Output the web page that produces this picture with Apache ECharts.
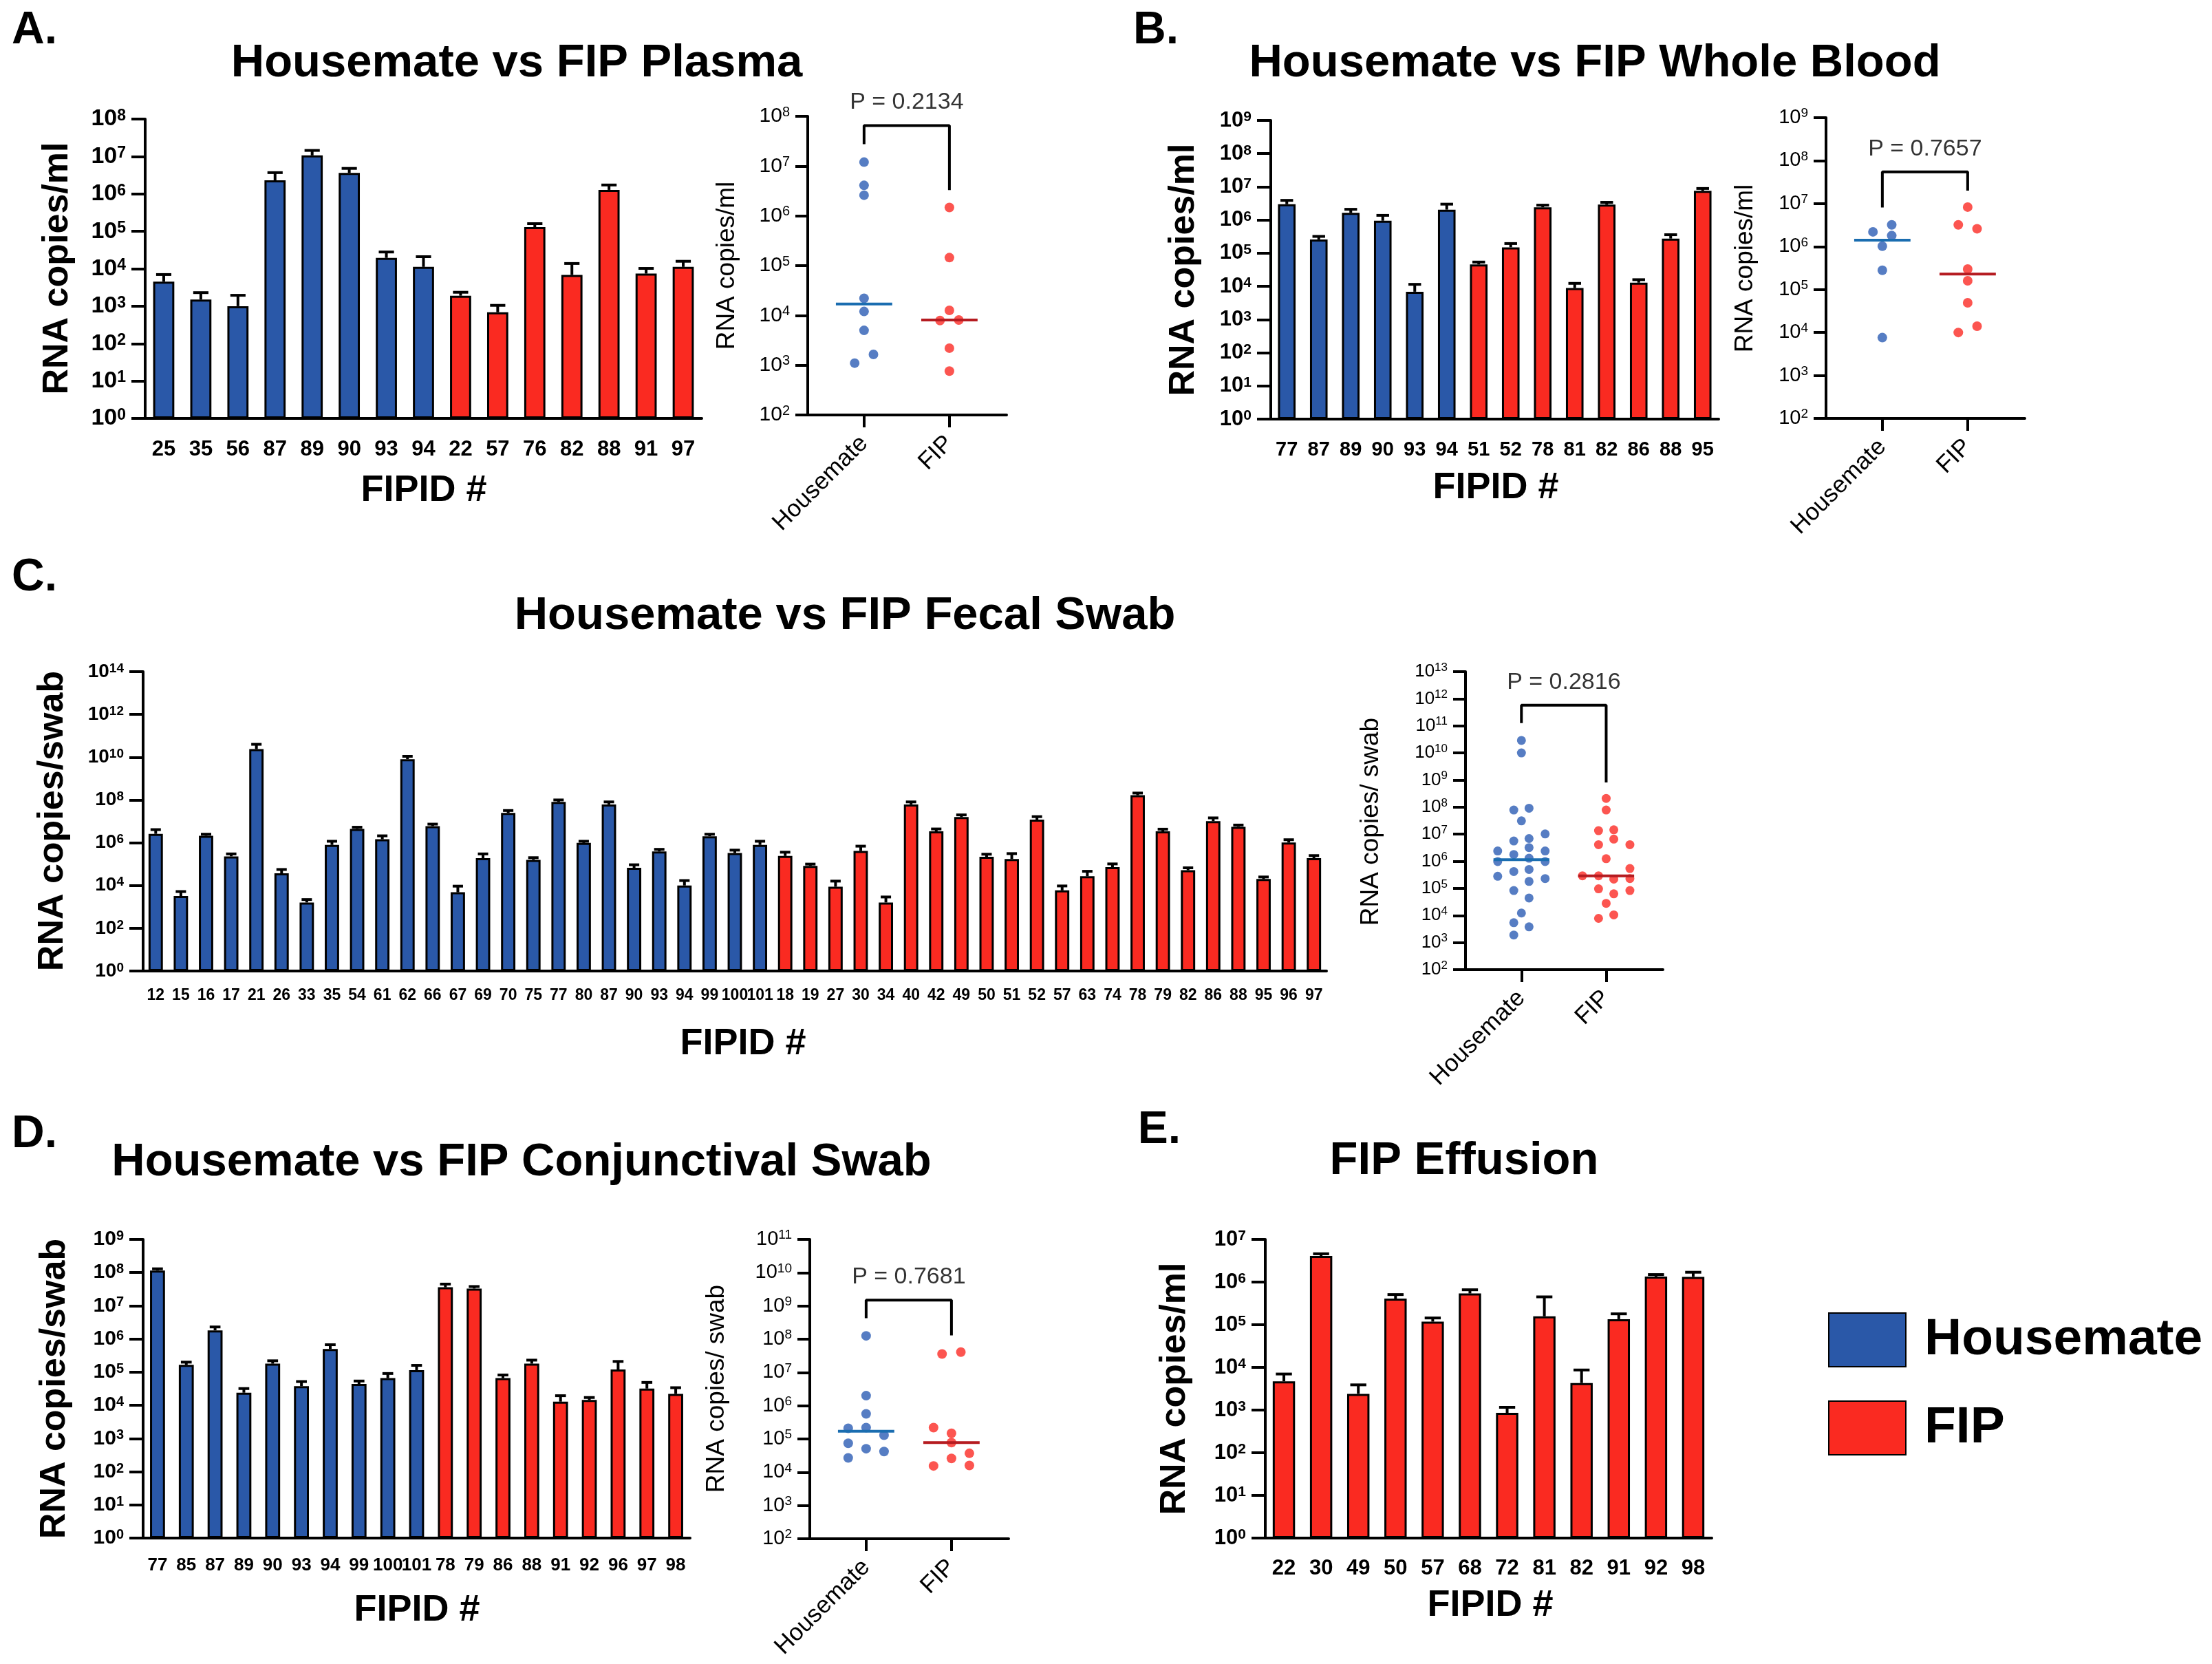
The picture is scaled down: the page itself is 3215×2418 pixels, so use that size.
<!DOCTYPE html>
<html>
<head>
<meta charset="utf-8">
<title>Housemate vs FIP RNA copies</title>
<script src="https://cdn.jsdelivr.net/npm/echarts@6/dist/echarts.min.js"></script>
<style>
  html, body { margin: 0; padding: 0; background: #fff; }
  #chart { width: 3215px; height: 2418px; }
</style>
</head>
<body>
<div id="chart"></div>
<script>
// ---------- A. Plasma ----------
const plasmaHmIds  = ['25', '35', '56', '87', '89', '90', '93', '94'];
const plasmaHmVals = [4.5e3, 1.5e3, 1.0e3, 2.3e6, 1.07e7, 3.65e6, 1.95e4, 1.12e4];
const plasmaHmErr  = [7.0e3, 2.3e3, 1.95e3, 3.7e6, 1.45e7, 4.8e6, 2.8e4, 2.1e4];
const plasmaFipIds  = ['22', '57', '76', '82', '88', '91', '97'];
const plasmaFipVals = [1.9e3, 690, 1.29e5, 6.8e3, 1.28e6, 7.4e3, 1.12e4];
const plasmaFipErr  = [2.35e3, 1.05e3, 1.6e5, 1.38e4, 1.73e6, 1.02e4, 1.58e4];
const plasmaDotsHm  = [1.2e7, 4.1e6, 2.6e6, 2.2e4, 1.2e4, 5.0e3, 1.65e3, 1.1e3];
const plasmaJitHm   = [0, 0, 0, 0, 0, 0, 0.11, -0.11];
const plasmaDotsFip = [1.47e6, 1.45e5, 1.26e4, 7.9e3, 8.1e3, 2.2e3, 760];
const plasmaJitFip  = [0, 0, 0, -0.11, 0.11, 0, 0];
const plasmaBracket = [2.75e7, 6.5e7, 3.3e6]; // left foot, top, right foot
const plasmaP = 'P = 0.2134';

// ---------- B. Whole blood ----------
const bloodHmIds  = ['77', '87', '89', '90', '93', '94'];
const bloodHmVals = [3.0e6, 2.6e5, 1.65e6, 9.5e5, 6.9e3, 2.05e6];
const bloodHmErr  = [3.9e6, 3.2e5, 2.1e6, 1.38e6, 1.15e4, 3.0e6];
const bloodFipIds  = ['51', '52', '78', '81', '82', '86', '88', '95'];
const bloodFipVals = [4.6e4, 1.5e5, 2.4e6, 8.9e3, 2.9e6, 1.29e4, 2.75e5, 7.6e6];
const bloodFipErr  = [5.4e4, 1.95e5, 2.8e6, 1.23e4, 3.4e6, 1.59e4, 3.6e5, 8.9e6];
const bloodDotsHm  = [3.2e6, 2.2e6, 1.8e6, 1.02e6, 2.8e5, 7.6e3];
const bloodJitHm   = [0.11, -0.11, 0.11, 0, 0, 0];
const bloodDotsFip = [8.3e6, 3.2e6, 2.6e6, 3.0e5, 1.6e5, 4.9e4, 1.4e4, 1.0e4];
const bloodJitFip  = [0, -0.11, 0.11, 0, 0, 0, 0.11, -0.11];
const bloodBracket = [8.1e6, 5.5e7, 2.0e7];
const bloodP = 'P = 0.7657';

// ---------- C. Fecal swab ----------
const fecalHmIds  = ['12', '15', '16', '17', '21', '26', '33', '35', '54', '61', '62', '66', '67',
                     '69', '70', '75', '77', '80', '87', '90', '93', '94', '99', '100', '101'];
const fecalHmVals = [2.6e6, 3.2e3, 2.1e6, 2.3e5, 2.4e10, 3.7e4, 1.6e3, 7.9e5, 4.4e6, 1.45e6, 8.1e9, 6.0e6, 4.8e3,
                     1.9e5, 2.5e7, 1.58e5, 8.1e7, 9.8e5, 6.2e7, 6.7e4, 3.9e5, 1.0e4, 2.0e6, 3.3e5, 7.9e5];
const fecalHmErr  = [4.1e6, 5.2e3, 2.5e6, 3.0e5, 4.0e10, 5.6e4, 2.2e3, 1.17e6, 5.3e6, 2.1e6, 1.1e10, 7.4e6, 9.3e3,
                     3.0e5, 3.2e7, 2.0e5, 1.0e8, 1.17e6, 8.1e7, 9.3e4, 4.9e5, 1.7e4, 2.5e6, 4.5e5, 1.17e6];
const fecalFipIds  = ['18', '19', '27', '30', '34', '40', '42', '49', '50', '51', '52',
                      '57', '63', '74', '78', '79', '82', '86', '88', '95', '96', '97'];
const fecalFipVals = [2.4e5, 8.3e4, 8.7e3, 4.1e5, 1.6e3, 6.2e7, 3.4e6, 1.58e7, 2.2e5, 1.74e5, 1.2e7,
                      5.9e3, 2.7e4, 7.2e4, 1.66e8, 3.4e6, 5.2e4, 1.02e7, 5.5e6, 2.0e4, 1.02e6, 1.9e5];
const fecalFipErr  = [3.6e5, 1.0e5, 1.6e4, 6.9e5, 2.9e3, 8.1e7, 4.4e6, 2.0e7, 2.9e5, 3.1e5, 1.66e7,
                      9.5e3, 4.6e4, 1.02e5, 2.1e8, 4.3e6, 6.7e4, 1.45e7, 6.7e6, 2.5e4, 1.38e6, 2.5e5];
const fecalDotsHm = [2.9e10, 1.0e10, 9.1e7, 7.8e7, 3.1e7, 1.02e7, 6.9e6, 5.6e6, 3.2e6, 2.4e6, 2.4e6, 1.78e6, 1.3e6,
                     9.8e5, 9.8e5, 4.2e5, 5.0e5, 2.8e5, 2.3e5, 1.8e5, 8.3e4, 4.4e4, 1.23e4, 5.4e3, 3.8e3, 1.9e3];
const fecalJitHm  = [0, 0, 0.09, -0.09, 0, 0.28, 0.09, -0.09, 0.09, -0.28, 0.28, -0.09, 0.09,
                     -0.28, 0.28, -0.09, 0.09, -0.28, 0.28, 0.09, -0.09, 0.09, 0, -0.09, 0.09, -0.09];
const fecalDotsFip = [2.1e8, 7.8e7, 1.35e7, 1.45e7, 6.6e6, 4.1e6, 4.1e6, 1.24e6, 5.4e5, 2.9e5,
                      2.9e5, 2.2e5, 2.3e5, 9.6e4, 8.3e4, 6.3e4, 2.8e4, 1.05e4, 7.8e3];
const fecalJitFip  = [0, 0, -0.09, 0.09, 0.09, -0.09, 0.28, 0, 0.28, -0.28,
                      -0.09, 0.09, 0.28, -0.09, 0.28, 0.09, 0, 0.09, -0.09];
const fecalBracket = [1.26e11, 5.8e11, 8.1e8];
const fecalP = 'P = 0.2816';

// ---------- D. Conjunctival swab ----------
const conjHmIds  = ['77', '85', '87', '89', '90', '93', '94', '99', '100', '101'];
const conjHmVals = [1.15e8, 1.66e5, 1.82e6, 2.4e4, 1.8e5, 3.8e4, 5.0e5, 4.4e4, 6.6e4, 1.15e5];
const conjHmErr  = [1.3e8, 2.0e5, 2.3e6, 3.2e4, 2.2e5, 5.2e4, 6.7e5, 5.4e4, 9.1e4, 1.6e5];
const conjFipIds  = ['78', '79', '86', '88', '91', '92', '96', '97', '98'];
const conjFipVals = [3.6e7, 3.3e7, 6.6e4, 1.8e5, 1.29e4, 1.45e4, 1.2e5, 3.2e4, 2.2e4];
const conjFipErr  = [4.5e7, 3.8e7, 8.2e4, 2.3e5, 1.95e4, 1.72e4, 2.1e5, 4.9e4, 3.4e4];
const conjDotsHm  = [1.26e8, 2.0e6, 5.7e5, 2.1e5, 2.2e5, 1.3e5, 7.4e4, 5.1e4, 4.2e4, 2.7e4];
const conjJitHm   = [0, 0, 0, -0.21, 0, 0.21, -0.21, 0, 0.21, -0.21];
const conjDotsFip = [3.6e7, 4.1e7, 2.2e5, 1.48e5, 7.8e4, 3.7e4, 2.6e4, 1.6e4, 1.55e4];
const conjJitFip  = [-0.11, 0.11, -0.21, 0, 0, 0.21, 0, 0.21, -0.21];
const conjBracket = [4.3e8, 1.5e9, 1.3e8];
const conjP = 'P = 0.7681';

// ---------- E. Effusion (FIP only) ----------
const effIds  = ['22', '30', '49', '50', '57', '68', '72', '81', '82', '91', '92', '98'];
const effVals = [4.7e3, 4.1e6, 2.4e3, 4.1e5, 1.18e5, 5.4e5, 860, 1.58e5, 4.3e3, 1.35e5, 1.35e6, 1.32e6];
const effErr  = [7.0e3, 4.6e6, 3.9e3, 5.1e5, 1.44e5, 6.6e5, 1.16e3, 4.5e5, 8.7e3, 1.8e5, 1.5e6, 1.7e6];

const groupNames = ['Housemate', 'FIP'];

const FONT = '"Liberation Sans", Arial, Helvetica, sans-serif';
const BLUE = '#2a58a8', RED = '#fa2a21';
const DOT_BLUE = '#2c5db4', DOT_RED = '#fb2b24';
const MED_BLUE = '#1a6db0', MED_RED = '#b51b20';
const AXIS = { color: '#000', width: 4 };

const grids = [], xAxes = [], yAxes = [], series = [], texts = [];

function median(arr) {
  const s = arr.slice().sort((a, b) => a - b);
  const m = s.length >> 1;
  return s.length % 2 ? s[m] : (s[m - 1] + s[m]) / 2;
}

// visible decade axis (exponents), drawn over the hidden log axis of the same grid
function expAxis(g, lo, hi, step, bold, tickLen, margin, big, raise) {
  const w = bold ? 'bold' : 'normal';
  const small = Math.round(big * 0.67);
  return {
    gridIndex: g, type: 'value', position: 'left', min: lo, max: hi, interval: step,
    axisLine: { show: true, onZero: false, lineStyle: AXIS },
    axisTick: { show: true, length: tickLen, lineStyle: AXIS },
    splitLine: { show: false },
    axisLabel: {
      margin: margin,
      formatter: v => '{b|10}{s|' + v + '}',
      rich: {
        b: { fontSize: big, fontWeight: w, fontFamily: FONT, color: '#000' },
        s: { fontSize: small, fontWeight: w, fontFamily: FONT, color: '#000', padding: [0, 0, raise, 0] }
      }
    }
  };
}

function barPanel(box, hmIds, hmVals, hmErr, fipIds, fipVals, fipErr, expTop, expStep, yFont, xFont, xMargin, barFrac) {
  const g = grids.length;
  grids.push({ left: box[0], top: box[1], width: box[2], height: box[3] });
  const ids = hmIds.concat(fipIds);
  xAxes.push({
    gridIndex: g, type: 'category', data: ids, boundaryGap: true,
    axisLine: { onZero: false, lineStyle: AXIS },
    axisTick: { alignWithLabel: true, length: 21, lineStyle: AXIS },
    axisLabel: { interval: 0, margin: xMargin, fontSize: xFont, fontWeight: 'bold', color: '#000', fontFamily: FONT }
  });
  const xi = xAxes.length - 1;
  yAxes.push({ gridIndex: g, type: 'log', logBase: 10, min: 1, max: Math.pow(10, expTop), show: false });
  const yl = yAxes.length - 1;
  yAxes.push(expAxis(g, 0, expTop, expStep, true, 20, 28, yFont, 9));

  const width = Math.round(barFrac * 100) + '%';
  series.push({
    type: 'bar', name: 'Housemate', xAxisIndex: xi, yAxisIndex: yl, barWidth: width, barGap: '-100%',
    data: hmVals.concat(fipIds.map(() => '-')),
    itemStyle: { color: BLUE, borderColor: '#000', borderWidth: 3 }
  });
  series.push({
    type: 'bar', name: 'FIP', xAxisIndex: xi, yAxisIndex: yl, barWidth: width, barGap: '-100%',
    data: hmIds.map(() => '-').concat(fipVals),
    itemStyle: { color: RED, borderColor: '#000', borderWidth: 3 }
  });

  // upward error bars with caps
  const errData = hmVals.map((v, i) => [i, v, hmErr[i]])
    .concat(fipVals.map((v, i) => [hmIds.length + i, v, fipErr[i]]));
  const capHalf = box[2] / ids.length * barFrac * 0.36;
  series.push({
    type: 'custom', xAxisIndex: xi, yAxisIndex: yl, data: errData, silent: true, z: 4,
    encode: { x: 0, y: 1 },
    renderItem: (params, api) => {
      const p0 = api.coord([api.value(0), api.value(1)]);
      const p1 = api.coord([api.value(0), api.value(2)]);
      const st = { stroke: '#000', lineWidth: 4 };
      return {
        type: 'group',
        children: [
          { type: 'line', shape: { x1: p0[0], y1: p0[1], x2: p1[0], y2: p1[1] }, style: st },
          { type: 'line', shape: { x1: p1[0] - capHalf, y1: p1[1], x2: p1[0] + capHalf, y2: p1[1] }, style: st }
        ]
      };
    }
  });
}

function dotPanel(box, hmDots, hmJit, fipDots, fipJit, bracket, pText, expLo, expTop, yFont, dotSize) {
  const g = grids.length;
  grids.push({ left: box[0], top: box[1], width: box[2], height: box[3] });
  xAxes.push({
    gridIndex: g, type: 'value', min: -0.66, max: 1.67,
    axisLine: { onZero: false, lineStyle: AXIS },
    axisTick: { customValues: [0, 1], length: 18, lineStyle: AXIS },
    splitLine: { show: false },
    axisLabel: {
      customValues: [0, 1], formatter: v => groupNames[Math.round(v)], rotate: 45,
      margin: 36, fontSize: 35, color: '#000', fontFamily: FONT
    }
  });
  const xi = xAxes.length - 1;
  yAxes.push({ gridIndex: g, type: 'log', logBase: 10, min: Math.pow(10, expLo), max: Math.pow(10, expTop), show: false });
  const yl = yAxes.length - 1;
  yAxes.push(expAxis(g, expLo, expTop, 1, false, 18, 26, yFont, 12));

  const common = { xAxisIndex: xi, yAxisIndex: yl, silent: true };
  series.push(Object.assign({
    type: 'scatter', name: 'Housemate dots', symbolSize: dotSize, z: 2,
    data: hmDots.map((v, i) => [hmJit[i], v]), itemStyle: { color: DOT_BLUE }
  }, common));
  series.push(Object.assign({
    type: 'scatter', name: 'FIP dots', symbolSize: dotSize, z: 2,
    data: fipDots.map((v, i) => [1 + fipJit[i], v]), itemStyle: { color: DOT_RED }
  }, common));

  // median lines
  const mH = median(hmDots), mF = median(fipDots);
  series.push(Object.assign({
    type: 'line', symbol: 'none', z: 3, data: [[-0.33, mH], [0.33, mH]],
    lineStyle: { color: MED_BLUE, width: 4 }
  }, common));
  series.push(Object.assign({
    type: 'line', symbol: 'none', z: 3, data: [[0.67, mF], [1.33, mF]],
    lineStyle: { color: MED_RED, width: 4 }
  }, common));

  // significance bracket and P value
  series.push(Object.assign({
    type: 'line', symbol: 'none', z: 3,
    data: [[0, bracket[0]], [0, bracket[1]], [1, bracket[1]], [1, bracket[2]]],
    lineStyle: { color: '#000', width: 4 }
  }, common));
  series.push(Object.assign({
    type: 'scatter', symbolSize: 1, clip: false, z: 3, data: [[0.5, bracket[1]]],
    itemStyle: { color: 'rgba(0,0,0,0)' },
    label: { show: true, position: 'top', distance: 16, formatter: pText, fontSize: 34, color: '#000', fontFamily: FONT }
  }, common));
}

function text(str, x, y, size, weight, rotate) {
  texts.push({
    type: 'text', x: x, y: y, rotation: rotate ? Math.PI / 2 : 0, silent: true,
    style: {
      text: str, fill: '#000', font: weight + ' ' + size + 'px ' + FONT,
      align: 'center', verticalAlign: 'middle', textAlign: 'center', textVerticalAlign: 'middle'
    }
  });
}

// panels
barPanel([211, 173, 809, 435], plasmaHmIds, plasmaHmVals, plasmaHmErr, plasmaFipIds, plasmaFipVals, plasmaFipErr, 8, 1, 34, 31, 30, 0.57);
dotPanel([1174, 169, 289, 434], plasmaDotsHm, plasmaJitHm, plasmaDotsFip, plasmaJitFip, plasmaBracket, plasmaP, 2, 8, 30, 14);
barPanel([1847, 175, 651, 434], bloodHmIds, bloodHmVals, bloodHmErr, bloodFipIds, bloodFipVals, bloodFipErr, 9, 1, 31, 29, 30, 0.55);
dotPanel([2654, 171, 289, 437], bloodDotsHm, bloodJitHm, bloodDotsFip, bloodJitFip, bloodBracket, bloodP, 2, 9, 29, 14);
barPanel([208, 976, 1720, 435], fecalHmIds, fecalHmVals, fecalHmErr, fecalFipIds, fecalFipVals, fecalFipErr, 14, 2, 28, 23, 24, 0.57);
dotPanel([2130, 976, 287, 433], fecalDotsHm, fecalJitHm, fecalDotsFip, fecalJitFip, fecalBracket, fecalP, 2, 13, 26, 13);
barPanel([208, 1801, 795, 434], conjHmIds, conjHmVals, conjHmErr, conjFipIds, conjFipVals, conjFipErr, 9, 1, 30, 26, 27, 0.52);
dotPanel([1177, 1801, 289, 435], conjDotsHm, conjJitHm, conjDotsFip, conjJitFip, conjBracket, conjP, 2, 11, 29, 14);
barPanel([1839, 1801, 649, 434], [], [], [], effIds, effVals, effErr, 7, 1, 31, 31, 29, 0.6);

// panel letters and titles
text('A.', 50, 45, 66, 'bold');
text('B.', 1680, 45, 66, 'bold');
text('C.', 50, 840, 66, 'bold');
text('D.', 50, 1649, 66, 'bold');
text('E.', 1685, 1643, 66, 'bold');
text('Housemate vs FIP Plasma', 751, 93, 67, 'bold');
text('Housemate vs FIP Whole Blood', 2318, 93, 67, 'bold');
text('Housemate vs FIP Fecal Swab', 1228, 896, 67, 'bold');
text('Housemate vs FIP Conjunctival Swab', 758, 1690, 67, 'bold');
text('FIP Effusion', 2128, 1688, 67, 'bold');

// axis names
text('FIPID #', 616, 713, 54, 'bold');
text('FIPID #', 2174, 709, 54, 'bold');
text('FIPID #', 1080, 1517, 54, 'bold');
text('FIPID #', 606, 2340, 54, 'bold');
text('FIPID #', 2166, 2333, 54, 'bold');
text('RNA copies/ml', 84, 390, 52, 'bold', true);
text('RNA copies/ml', 1721, 392, 52, 'bold', true);
text('RNA copies/swab', 77, 1193, 52, 'bold', true);
text('RNA copies/swab', 80, 2018, 52, 'bold', true);
text('RNA copies/ml', 1708, 2018, 52, 'bold', true);
text('RNA copies/ml', 1057, 386, 37, 'normal', true);
text('RNA copies/ml', 2537, 390, 37, 'normal', true);
text('RNA copies/ swab', 1993, 1194, 37, 'normal', true);
text('RNA copies/ swab', 1042, 2018, 37, 'normal', true);

const chart = echarts.init(document.getElementById('chart'));
chart.setOption({
  animation: false,
  backgroundColor: '#fff',
  grid: grids,
  xAxis: xAxes,
  yAxis: yAxes,
  series: series,
  legend: {
    data: groupNames, orient: 'vertical', left: 2652, top: 1902, icon: 'rect',
    itemWidth: 112, itemHeight: 78, itemGap: 48, selectedMode: false,
    textStyle: { fontSize: 75, fontWeight: 'bold', fontFamily: FONT, color: '#000', lineHeight: 78, padding: [0, 0, 0, 22] }
  },
  graphic: { elements: texts }
});
</script>
</body>
</html>
